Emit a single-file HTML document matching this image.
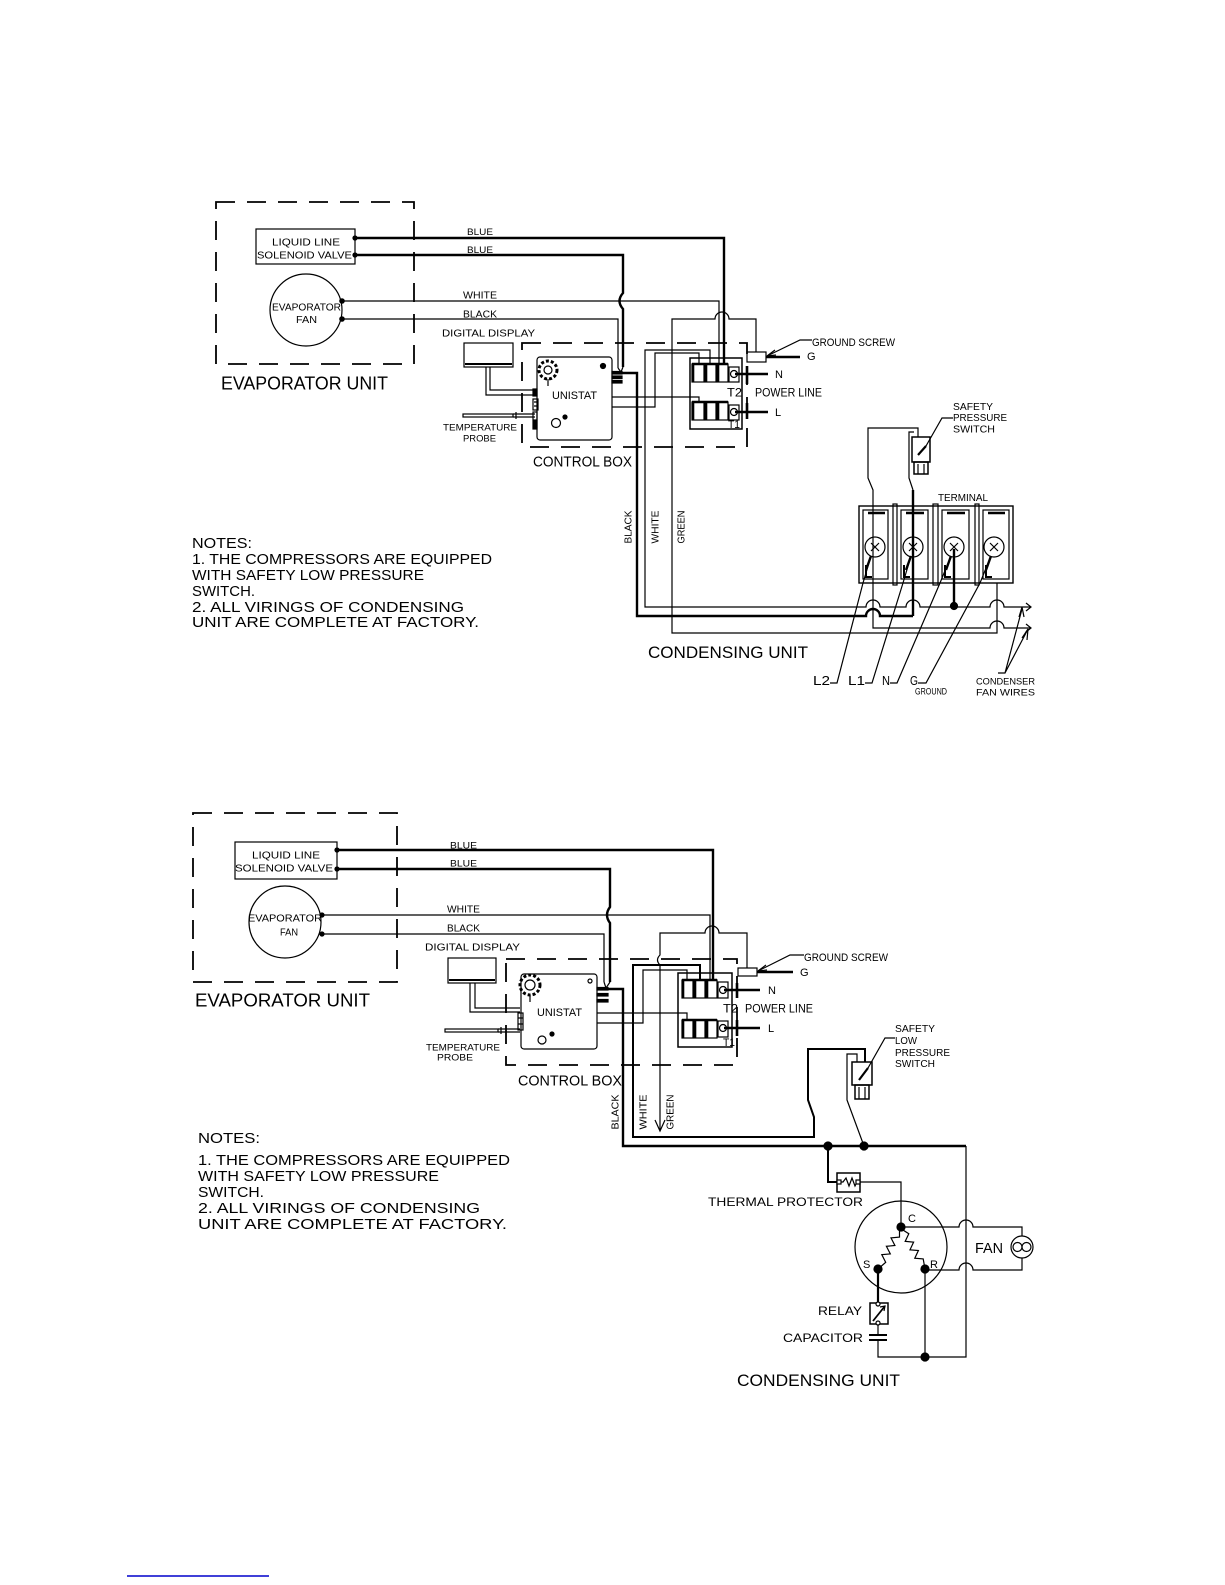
<!DOCTYPE html>
<html><head><meta charset="utf-8"><style>
html,body{margin:0;padding:0;background:#fff;}
svg{display:block;}
text{font-family:"Liberation Sans",sans-serif;fill:#000;stroke:none;}
</style></head><body>
<svg width="1225" height="1585" viewBox="0 0 1225 1585" xmlns="http://www.w3.org/2000/svg">
<rect width="1225" height="1585" fill="#fff"/>

<!-- ================= TOP DIAGRAM ================= -->
<g fill="none" stroke="#000" stroke-width="1.2">
  <rect x="216" y="202" width="198" height="162" stroke-dasharray="19 12" stroke-width="1.8"/>
  <rect x="256" y="229" width="99" height="35"/>
  <circle cx="306" cy="310" r="36"/>
  <path d="M355,238 H724 V364" stroke-width="2.4"/>
  <path d="M355,255 H623 V293 Q616,301 623,309 V367" stroke-width="2.4"/>
  <path d="M342,301 H719 V364"/>
  <path d="M342,319 H618 V368"/>
  <path d="M618,368 L621,372 M623,367 L621,372"/>
  <path d="M756,352 V319 H729 A7,7 0 0 0 715,319 H672 V633 H997 V583"/>
  <path d="M710,364 V350 H645 V607 H866 A7,7 0 0 1 880,607 H906 A7,7 0 0 1 920,607 H990 A7,7 0 0 1 1004,607 H1030"/>
  <path d="M612,407 H655 V353 H699 V364"/>
  <path d="M612,397 H699 V403"/>
  <path d="M612,373 H637 V616 H866 A7,7 0 0 1 880,616 H913" stroke-width="2.4"/>
  <path d="M918,437 V428 H868 V478 L873,490 V628 H990 A7,7 0 0 1 1004,628 H1030"/>
  <path d="M914,432 H909 V478 L913,490"/>
  <path d="M913,490 V616" stroke-width="2.4"/>
  <path d="M1026,603 L1031,607 L1026,611 M1026,624 L1031,628 L1026,632"/>
  <path d="M954,549 V606" stroke-width="2.4"/>
  <circle cx="954" cy="606" r="3.5" fill="#000"/>

  <circle cx="355" cy="238" r="2" fill="#000"/>
  <circle cx="355" cy="255" r="2" fill="#000"/>
  <circle cx="342" cy="301" r="2.2" fill="#000"/>
  <circle cx="342" cy="319" r="2.2" fill="#000"/>

  <rect x="464" y="343" width="49" height="24"/>
  <path d="M465,364 H512" stroke-width="2"/>
  <path d="M486,367 V395 H535 M490,367 V390 H535"/>
  <rect x="463" y="414" width="50" height="3"/>
  <path d="M513,414 H535 M513,417 H535 M516,412 V419"/>

  <rect x="522" y="343" width="225" height="104" stroke-dasharray="19 12" stroke-width="1.8"/>
  <rect x="537" y="357" width="75" height="83" rx="3"/>
  <circle cx="548" cy="370" r="9" stroke-width="3" stroke-dasharray="3 2"/>
  <circle cx="548" cy="370" r="4"/>
  <path d="M548,379 V386"/>
  <rect x="533" y="389" width="4" height="7" fill="#000"/>
  <rect x="533" y="399" width="5" height="11"/>
  <path d="M534,402 H538 M534,406 H538"/>
  <rect x="533" y="412" width="4" height="8"/>
  <rect x="533" y="421" width="4" height="8" fill="#000"/>
  <circle cx="556" cy="423" r="4.5"/>
  <circle cx="565" cy="417" r="2" fill="#000"/>
  <circle cx="603" cy="366" r="2.5" fill="#000"/>
  <rect x="612" y="371.5" width="10" height="2.5" fill="#000"/>
  <rect x="612" y="376" width="10" height="2.5" fill="#000"/>
  <rect x="612" y="380.5" width="10" height="2.5" fill="#000"/>

  <rect x="690" y="358" width="52" height="71" stroke-width="1.5"/>
  <rect x="692" y="364" width="12" height="18"/><rect x="705" y="364" width="11" height="18"/><rect x="717" y="364" width="11" height="18"/>
  <path d="M693,364 V382 M706,364 V382 M718,364 V382 M692,364 H728" stroke-width="2.6"/>
  <rect x="729" y="367" width="10" height="15"/><circle cx="734" cy="374" r="3.5"/>
  <rect x="692" y="402" width="12" height="18"/><rect x="705" y="402" width="11" height="18"/><rect x="717" y="402" width="11" height="18"/>
  <path d="M693,402 V420 M706,402 V420 M718,402 V420 M692,402 H728" stroke-width="2.6"/>
  <rect x="729" y="405" width="10" height="15"/><circle cx="734" cy="412" r="3.5"/>
  <path d="M735,374 H768 M735,412 H768" stroke-width="2.6"/>
  <path d="M747,366 V384 M747,403 V419" stroke-width="2.6"/>
  <rect x="747" y="352" width="19" height="10"/>
  <path d="M766,357 H800" stroke-width="2.6"/>
  <path d="M767,356 L800,340 H812"/>
  <path d="M767,356 L775,350 M767,356 L776,355"/>

  <rect x="912" y="437" width="18" height="25" stroke-width="1.5"/>
  <rect x="914" y="462" width="14" height="12" stroke-width="1.5"/>
  <path d="M918,464 V474 M924,464 V474"/>
  <path d="M918,455 L926,446" stroke-width="2.2"/>
  <path d="M926,446 L942,418 H953"/>

  <rect x="859" y="506" width="154" height="77" stroke-width="1.4"/>
  <rect x="893" y="504" width="4" height="81"/>
  <rect x="933" y="504" width="5" height="81"/>
  <rect x="975" y="504" width="4" height="81"/>
  <g>
    <rect x="863" y="510" width="25" height="69"/>
    <path d="M868,513 H885" stroke-width="2.6"/><path d="M866,565 V577 H872" stroke-width="2"/>
    <circle cx="875" cy="547" r="10"/><path d="M871,543 L879,551 M879,543 L871,551"/>
    <rect x="901" y="510" width="27" height="69"/>
    <path d="M906,513 H924" stroke-width="2.6"/><path d="M904,565 V577 H910" stroke-width="2"/>
    <circle cx="913" cy="547" r="10"/><path d="M909,543 L917,551 M917,543 L909,551"/>
    <rect x="942" y="510" width="27" height="69"/>
    <path d="M947,513 H965" stroke-width="2.6"/><path d="M945,565 V577 H951" stroke-width="2"/>
    <circle cx="954" cy="547" r="10"/><path d="M950,543 L958,551 M958,543 L950,551"/>
    <rect x="983" y="510" width="26" height="69"/>
    <path d="M988,513 H1005" stroke-width="2.6"/><path d="M986,565 V577 H992" stroke-width="2"/>
    <circle cx="994" cy="547" r="10"/><path d="M990,543 L998,551 M998,543 L990,551"/>
  </g>
  <path d="M830,683 H837 L863,583 L871,556"/>
  <path d="M866,570 L871,556" stroke-width="2.4"/>
  <path d="M865,683 H872 L903,583 L911,556"/>
  <path d="M906,570 L911,556" stroke-width="2.4"/>
  <path d="M890,683 H897 L940,583 L951,556"/>
  <path d="M946,570 L951,556" stroke-width="2.4"/>
  <path d="M918,683 H926 L980,583 L991,556"/>
  <path d="M986,570 L991,556" stroke-width="2.4"/>
  <path d="M998,673 H1005 L1022,609 M1005,673 L1027,631"/>
  <path d="M1019,617 L1022,607 L1024,617 M1022,638 L1028,629 L1027,640"/>
</g>

<g font-size="10">
  <text x="272" y="245.5" textLength="68" lengthAdjust="spacingAndGlyphs">LIQUID LINE</text>
  <text x="257" y="258.5" textLength="95" lengthAdjust="spacingAndGlyphs">SOLENOID VALVE</text>
  <text x="467" y="235" font-size="9" textLength="26" lengthAdjust="spacingAndGlyphs">BLUE</text>
  <text x="467" y="253" font-size="9" textLength="26" lengthAdjust="spacingAndGlyphs">BLUE</text>
  <text x="463" y="298.5" textLength="34" lengthAdjust="spacingAndGlyphs">WHITE</text>
  <text x="463" y="317.5" textLength="34" lengthAdjust="spacingAndGlyphs">BLACK</text>
  <text x="272" y="310.5" textLength="69" lengthAdjust="spacingAndGlyphs">EVAPORATOR</text>
  <text x="296" y="323" textLength="21" lengthAdjust="spacingAndGlyphs">FAN</text>
  <text x="442" y="336.5" textLength="93" lengthAdjust="spacingAndGlyphs">DIGITAL DISPLAY</text>
  <text x="221" y="389.5" font-size="18" textLength="167" lengthAdjust="spacingAndGlyphs">EVAPORATOR UNIT</text>
  <text x="552" y="399" font-size="11" textLength="45" lengthAdjust="spacingAndGlyphs">UNISTAT</text>
  <text x="443" y="430.5" font-size="9.5" textLength="74" lengthAdjust="spacingAndGlyphs">TEMPERATURE</text>
  <text x="463" y="441.5" font-size="9.5" textLength="33" lengthAdjust="spacingAndGlyphs">PROBE</text>
  <text x="533" y="466.5" font-size="15" textLength="99" lengthAdjust="spacingAndGlyphs">CONTROL BOX</text>
  <text x="812" y="346" font-size="11" textLength="83" lengthAdjust="spacingAndGlyphs">GROUND SCREW</text>
  <text x="807" y="360" font-size="11">G</text>
  <text x="775" y="378" font-size="11">N</text>
  <text x="775" y="416" font-size="11">L</text>
  <text x="727" y="396.5" font-size="12" textLength="15" lengthAdjust="spacingAndGlyphs">T2</text>
  <text x="755" y="396.5" font-size="12" textLength="67" lengthAdjust="spacingAndGlyphs">POWER LINE</text>
  <text x="728" y="428" font-size="11" textLength="12" lengthAdjust="spacingAndGlyphs">T1</text>
  <text x="953" y="410" textLength="40" lengthAdjust="spacingAndGlyphs">SAFETY</text>
  <text x="953" y="421" textLength="54" lengthAdjust="spacingAndGlyphs">PRESSURE</text>
  <text x="953" y="432.5" textLength="42" lengthAdjust="spacingAndGlyphs">SWITCH</text>
  <text x="938" y="501" textLength="50" lengthAdjust="spacingAndGlyphs">TERMINAL</text>
  <text transform="translate(631.5,527) rotate(-90)" text-anchor="middle" textLength="33" lengthAdjust="spacingAndGlyphs">BLACK</text>
  <text transform="translate(658.5,527) rotate(-90)" text-anchor="middle" textLength="33" lengthAdjust="spacingAndGlyphs">WHITE</text>
  <text transform="translate(684.5,527) rotate(-90)" text-anchor="middle" textLength="33" lengthAdjust="spacingAndGlyphs">GREEN</text>
  <text x="648" y="658" font-size="17" textLength="160" lengthAdjust="spacingAndGlyphs">CONDENSING UNIT</text>
  <text x="813" y="685" font-size="13" textLength="17" lengthAdjust="spacingAndGlyphs">L2</text>
  <text x="848" y="685" font-size="13" textLength="17" lengthAdjust="spacingAndGlyphs">L1</text>
  <text x="882" y="685" font-size="13" textLength="8" lengthAdjust="spacingAndGlyphs">N</text>
  <text x="910" y="685" font-size="13" textLength="8" lengthAdjust="spacingAndGlyphs">G</text>
  <text x="915" y="694.5" font-size="9" textLength="32" lengthAdjust="spacingAndGlyphs">GROUND</text>
  <text x="976" y="684.5" font-size="9.5" textLength="59" lengthAdjust="spacingAndGlyphs">CONDENSER</text>
  <text x="976" y="695.5" font-size="9.5" textLength="59" lengthAdjust="spacingAndGlyphs">FAN WIRES</text>
  <g font-size="14.5">
    <text x="192" y="548" textLength="60" lengthAdjust="spacingAndGlyphs">NOTES:</text>
    <text x="192" y="564" textLength="300" lengthAdjust="spacingAndGlyphs">1. THE COMPRESSORS ARE EQUIPPED</text>
    <text x="192" y="580" textLength="232" lengthAdjust="spacingAndGlyphs">WITH SAFETY LOW PRESSURE</text>
    <text x="192" y="596" textLength="63" lengthAdjust="spacingAndGlyphs">SWITCH.</text>
    <text x="192" y="612" textLength="272" lengthAdjust="spacingAndGlyphs">2. ALL VIRINGS OF CONDENSING</text>
    <text x="192" y="627" textLength="287" lengthAdjust="spacingAndGlyphs">UNIT ARE COMPLETE AT FACTORY.</text>
  </g>
</g>

<!-- ================= BOTTOM DIAGRAM ================= -->
<g fill="none" stroke="#000" stroke-width="1.2">
  <rect x="193" y="813" width="204" height="169" stroke-dasharray="19 12" stroke-width="1.8"/>
  <rect x="235" y="842" width="102" height="37"/>
  <circle cx="285" cy="922" r="36"/>
  <circle cx="337" cy="850" r="2" fill="#000"/>
  <circle cx="337" cy="869" r="2" fill="#000"/>
  <circle cx="322" cy="915" r="2" fill="#000"/>
  <circle cx="322" cy="934" r="2" fill="#000"/>
  <path d="M337,850 H713 V980" stroke-width="2.4"/>
  <path d="M337,869 H610 V907 Q604,915 610,923 V982" stroke-width="2.4"/>
  <path d="M322,915 H710 V980"/>
  <path d="M322,934 H604 V982"/>
  <path d="M604,982 L606,988 M610,982 L606,988"/>
  <path d="M747,968 V933 H719 A7,7 0 0 0 705,933 H660 V955 Q655,960 660,965 V1130"/>
  <path d="M655,1120 L660,1131 L665,1120"/>
  <path d="M700,980 V965 H633 V1137 H814 V1117 L808,1100 V1049 H865 V1062" stroke-width="2"/>
  <path d="M687,980 V970 H643 V1023 H597"/>
  <path d="M597,1013 H687 V1020"/>
  <path d="M608,989 H623 V1146 H966" stroke-width="2.4"/>
  <path d="M966,1146 V1357 H878 V1340"/>
  <rect x="448" y="958" width="48" height="25"/>
  <path d="M449,980 H495" stroke-width="2"/>
  <path d="M470,983 V1012 H520 M475,983 V1008 H520"/>
  <rect x="445" y="1029" width="53" height="3"/>
  <path d="M498,1029 H520 M498,1032 H520 M501,1027 V1034"/>
  <rect x="506" y="959" width="231" height="106" stroke-dasharray="19 12" stroke-width="1.8"/>
  <rect x="521" y="974" width="76" height="75" rx="3"/>
  <circle cx="530" cy="985" r="10" stroke-width="3" stroke-dasharray="3 2"/>
  <circle cx="530" cy="985" r="5"/>
  <path d="M530,995 V1002"/>
  <rect x="518" y="1013" width="5" height="17"/>
  <path d="M518,1018 H523 M518,1024 H523"/>
  <circle cx="542" cy="1040" r="4"/>
  <circle cx="552" cy="1034" r="2" fill="#000"/>
  <circle cx="590" cy="981" r="2"/>
  <rect x="597" y="987.5" width="11" height="2.5" fill="#000"/>
  <rect x="597" y="993.5" width="11" height="2.5" fill="#000"/>
  <rect x="597" y="999.5" width="11" height="2.5" fill="#000"/>
  <rect x="678" y="973" width="54" height="74" stroke-width="1.5"/>
  <rect x="682" y="980" width="11" height="18"/><rect x="694" y="980" width="11" height="18"/><rect x="706" y="980" width="11" height="18"/>
  <path d="M683,980 V998 M695,980 V998 M707,980 V998 M682,980 H717" stroke-width="2.6"/>
  <rect x="718" y="982" width="10" height="16"/><circle cx="723" cy="990" r="3.5"/>
  <rect x="682" y="1020" width="11" height="18"/><rect x="694" y="1020" width="11" height="18"/><rect x="706" y="1020" width="11" height="18"/>
  <path d="M683,1020 V1038 M695,1020 V1038 M707,1020 V1038 M682,1020 H717" stroke-width="2.6"/>
  <rect x="718" y="1021" width="10" height="16"/><circle cx="723" cy="1028" r="3.5"/>
  <path d="M724,990 H760 M724,1028 H760" stroke-width="2.6"/>
  <path d="M737,983 V998 M737,1020 V1036" stroke-width="2.6"/>
  <rect x="738" y="968" width="19" height="8"/>
  <path d="M757,972 H793" stroke-width="2.6"/>
  <path d="M758,971 L790,955 H804"/>
  <path d="M758,971 L766,965 M758,971 L767,970"/>
  <path d="M857,1062 V1054 H847 V1100 L864,1146"/>
  <rect x="852" y="1062" width="20" height="23" stroke-width="1.5"/>
  <rect x="855" y="1085" width="14" height="14" stroke-width="1.5"/>
  <path d="M859,1087 V1099 M865,1087 V1099"/>
  <path d="M859,1080 L868,1068" stroke-width="2.2"/>
  <path d="M868,1068 L885,1038 H895"/>
  <circle cx="828" cy="1146" r="4" fill="#000"/>
  <circle cx="864" cy="1146" r="4" fill="#000"/>
  <path d="M828,1146 V1182 H837" stroke-width="2"/>
  <rect x="837" y="1173" width="23" height="19" stroke-width="1.5"/>
  <path d="M840,1182 L843,1182 L846,1178 L849,1186 L852,1178 L855,1186 L857,1182"/>
  <rect x="837" y="1180" width="4" height="4" fill="#fff"/>
  <rect x="856" y="1180" width="4" height="4" fill="#fff"/>
  <path d="M860,1182 H901 V1227"/>
  <circle cx="901" cy="1247" r="46"/>
  <path d="M901,1227 L899.5,1230 L899.5,1237.1 L891,1237.9 L894.9,1245.5 L886.4,1246.3 L890.3,1253.9 L881.8,1254.7 L885.7,1262.3 L878,1269"/>
  <path d="M901,1227 L903,1230 L908.8,1233.7 L905.2,1241.4 L913.6,1242.1 L910,1249.8 L918.4,1250.5 L914.8,1258.2 L923.2,1258.9 L925,1269"/>
  <circle cx="901" cy="1227" r="4" fill="#000"/>
  <circle cx="878" cy="1269" r="4" fill="#000"/>
  <circle cx="925" cy="1269" r="4" fill="#000"/>
  <path d="M901,1227 H959 A7,7 0 0 1 973,1227 H1022 V1236"/>
  <path d="M925,1270 H959 A7,7 0 0 1 973,1270 H1022 V1258"/>
  <circle cx="1022" cy="1247" r="11"/>
  <circle cx="1017.5" cy="1247" r="4.5"/>
  <circle cx="1026.5" cy="1247" r="4.5"/>
  <path d="M878,1269 V1303" stroke-width="2.2"/>
  <rect x="870" y="1303" width="18" height="21" stroke-width="1.5"/>
  <path d="M873,1321 L885,1306" stroke-width="1.8"/>
  <path d="M880,1307 L885,1306 L884,1311"/>
  <circle cx="878" cy="1304" r="2" fill="#fff"/>
  <circle cx="878" cy="1323" r="2" fill="#fff"/>
  <path d="M878,1325 V1335"/>
  <path d="M869,1335 H887 M869,1340 H887" stroke-width="2"/>
  <path d="M925,1269 V1357"/>
  <circle cx="925" cy="1357" r="4" fill="#000"/>
</g>

<g font-size="10">
  <text x="252" y="858.5" textLength="68" lengthAdjust="spacingAndGlyphs">LIQUID LINE</text>
  <text x="235" y="871.5" textLength="98" lengthAdjust="spacingAndGlyphs">SOLENOID VALVE</text>
  <text x="450" y="848.5" font-size="9.5" textLength="27" lengthAdjust="spacingAndGlyphs">BLUE</text>
  <text x="450" y="866.5" font-size="9.5" textLength="27" lengthAdjust="spacingAndGlyphs">BLUE</text>
  <text x="447" y="912.5" textLength="33" lengthAdjust="spacingAndGlyphs">WHITE</text>
  <text x="447" y="931.5" textLength="33" lengthAdjust="spacingAndGlyphs">BLACK</text>
  <text x="248" y="921.5" textLength="74" lengthAdjust="spacingAndGlyphs">EVAPORATOR</text>
  <text x="280" y="935.5" textLength="18" lengthAdjust="spacingAndGlyphs">FAN</text>
  <text x="425" y="950.5" textLength="95" lengthAdjust="spacingAndGlyphs">DIGITAL DISPLAY</text>
  <text x="195" y="1006.5" font-size="18" textLength="175" lengthAdjust="spacingAndGlyphs">EVAPORATOR UNIT</text>
  <text x="537" y="1016" font-size="11" textLength="45" lengthAdjust="spacingAndGlyphs">UNISTAT</text>
  <text x="426" y="1050.5" font-size="9.5" textLength="74" lengthAdjust="spacingAndGlyphs">TEMPERATURE</text>
  <text x="437" y="1060.5" font-size="9.5" textLength="36" lengthAdjust="spacingAndGlyphs">PROBE</text>
  <text x="518" y="1085.5" font-size="15" textLength="104" lengthAdjust="spacingAndGlyphs">CONTROL BOX</text>
  <text x="804" y="961" font-size="11" textLength="84" lengthAdjust="spacingAndGlyphs">GROUND SCREW</text>
  <text x="800" y="976" font-size="11">G</text>
  <text x="768" y="994" font-size="11">N</text>
  <text x="768" y="1032" font-size="11">L</text>
  <text x="723" y="1012.5" font-size="12" textLength="15" lengthAdjust="spacingAndGlyphs">T2</text>
  <text x="745" y="1012.5" font-size="12" textLength="68" lengthAdjust="spacingAndGlyphs">POWER LINE</text>
  <text x="723" y="1046" font-size="11" textLength="12" lengthAdjust="spacingAndGlyphs">T1</text>
  <text x="895" y="1032" textLength="40" lengthAdjust="spacingAndGlyphs">SAFETY</text>
  <text x="895" y="1044" textLength="22" lengthAdjust="spacingAndGlyphs">LOW</text>
  <text x="895" y="1056" textLength="55" lengthAdjust="spacingAndGlyphs">PRESSURE</text>
  <text x="895" y="1067" textLength="40" lengthAdjust="spacingAndGlyphs">SWITCH</text>
  <text transform="translate(618.5,1112) rotate(-90)" text-anchor="middle" textLength="35" lengthAdjust="spacingAndGlyphs">BLACK</text>
  <text transform="translate(646.5,1112) rotate(-90)" text-anchor="middle" textLength="35" lengthAdjust="spacingAndGlyphs">WHITE</text>
  <text transform="translate(673.5,1112) rotate(-90)" text-anchor="middle" textLength="35" lengthAdjust="spacingAndGlyphs">GREEN</text>
  <g font-size="15">
    <text x="198" y="1143" textLength="62" lengthAdjust="spacingAndGlyphs">NOTES:</text>
    <text x="198" y="1165" textLength="312" lengthAdjust="spacingAndGlyphs">1. THE COMPRESSORS ARE EQUIPPED</text>
    <text x="198" y="1181" textLength="241" lengthAdjust="spacingAndGlyphs">WITH SAFETY LOW PRESSURE</text>
    <text x="198" y="1197" textLength="66" lengthAdjust="spacingAndGlyphs">SWITCH.</text>
    <text x="198" y="1213" textLength="282" lengthAdjust="spacingAndGlyphs">2. ALL VIRINGS OF CONDENSING</text>
    <text x="198" y="1229" textLength="309" lengthAdjust="spacingAndGlyphs">UNIT ARE COMPLETE AT FACTORY.</text>
  </g>
  <text x="708" y="1206" font-size="12" textLength="155" lengthAdjust="spacingAndGlyphs">THERMAL PROTECTOR</text>
  <text x="908" y="1222" font-size="11">C</text>
  <text x="863" y="1268" font-size="11">S</text>
  <text x="930" y="1268" font-size="11">R</text>
  <text x="975" y="1253" font-size="15" textLength="28" lengthAdjust="spacingAndGlyphs">FAN</text>
  <text x="818" y="1315" font-size="12" textLength="44" lengthAdjust="spacingAndGlyphs">RELAY</text>
  <text x="783" y="1342" font-size="12" textLength="80" lengthAdjust="spacingAndGlyphs">CAPACITOR</text>
  <text x="737" y="1386" font-size="17" textLength="163" lengthAdjust="spacingAndGlyphs">CONDENSING UNIT</text>
</g>

<path d="M127,1576 H269" stroke="#0000cc" stroke-width="1.5" fill="none"/>
</svg>
</body></html>
